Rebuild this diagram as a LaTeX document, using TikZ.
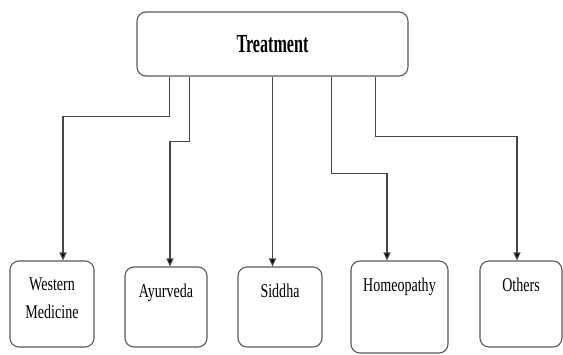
\documentclass[tikz,border=0pt]{standalone}
\usepackage{fontspec}
\setmainfont{Liberation Serif}
\newfontfamily\condfont[FakeStretch=0.72]{Liberation Serif}
\newfontfamily\condbold[FakeStretch=0.62]{Liberation Serif Bold}
\usetikzlibrary{arrows.meta}
\begin{document}
\begin{tikzpicture}[x=1pt,y=-1pt,
  box/.style={draw=black!65, line width=1.1pt, rounded corners=9pt, fill=white, inner sep=0pt},
  lab/.style={anchor=north, inner sep=0pt, align=center, font=\condfont\fontsize{19.5}{28}\selectfont, yshift=-17pt},
  conn/.style={draw=black!72, line width=1.1pt, -{Triangle[length=8pt,width=7pt,fill=black]}}
]
\useasboundingbox (0,0) rectangle (563,354);
\node[box, minimum width=271pt, minimum height=64pt, font=\condbold\fontsize{26}{30}\selectfont] (T) at (272.5,44) {Treatment};
\node[box, minimum width=84pt, minimum height=86pt, label={[lab]north:Western\\Medicine}] (wm) at (52,304) {};
\node[box, minimum width=82pt, minimum height=80pt, label={[lab]north:Ayurveda}] (ay) at (166,307) {};
\node[box, minimum width=84pt, minimum height=80pt, label={[lab]north:Siddha}] (sd) at (280,307) {};
\node[box, minimum width=97pt, minimum height=92pt, label={[lab]north:Homeopathy}] (hp) at (399.5,307) {};
\node[box, minimum width=82pt, minimum height=86pt, label={[lab]north:Others}] (ot) at (521,304) {};

\draw[conn] ([xshift=33pt]T.south west) -- ++(0,40) -| ([xshift=11pt]wm.north);
\draw[conn] ([xshift=53pt]T.south west) -- ++(0,65) -| ([xshift=4pt]ay.north);
\draw[conn] (T.south) -- (T.south |- sd.north);
\draw[conn] ([xshift=195pt]T.south west) -- ++(0,97) -| ([xshift=-12.5pt]hp.north);
\draw[conn] ([xshift=239pt]T.south west) -- ++(0,60) -| ([xshift=-4pt]ot.north);
\end{tikzpicture}
\end{document}
